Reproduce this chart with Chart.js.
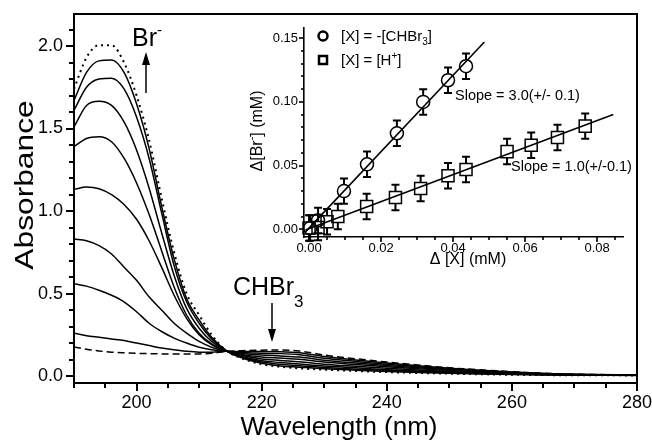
<!DOCTYPE html>
<html lang="en">
<head>
<meta charset="UTF-8">
<title>Absorbance spectra - Br- from CHBr3</title>
<script src="https://cdn.jsdelivr.net/npm/chart.js"></script>
<style>
    body { margin: 0; background: #fff; }
    #wrap { position: relative; width: 652px; height: 441px; }
    canvas { position: absolute; }
    #mainChart { left: 0; top: 0; }
    #insetChart { left: 250px; top: 18px; }
</style>
</head>
<body>
<div id="wrap">
    <canvas id="mainChart" width="652" height="441"></canvas>
    <canvas id="insetChart" width="385" height="255"></canvas>
</div>
<script>
// ---- main panel: spectra ----
const wavelengths = [190, 192, 194, 196, 198, 200, 202, 204, 206, 208, 210, 212, 214.5,
                     217, 220, 223, 226, 230, 235, 240, 245, 250, 255, 260, 265, 270, 280];

// dashed = CHBr3 before reaction, dotted = end of reaction
const specStart = [0.176, 0.162, 0.152, 0.145, 0.141, 0.138, 0.136, 0.134, 0.133, 0.133, 0.134, 0.138, 0.15,
                   0.154, 0.157, 0.158, 0.152, 0.127, 0.105, 0.085, 0.067, 0.050, 0.038, 0.027, 0.017, 0.011, 0.007];
const spec1 = [0.26, 0.245, 0.235, 0.225, 0.215, 0.20, 0.185, 0.17, 0.16, 0.15, 0.145, 0.145, 0.15,
               0.149, 0.149, 0.148, 0.142, 0.118, 0.098, 0.079, 0.062, 0.047, 0.035, 0.025, 0.016, 0.011, 0.007];
const spec2 = [0.56, 0.545, 0.52, 0.49, 0.45, 0.39, 0.32, 0.27, 0.23, 0.20, 0.175, 0.16, 0.15,
               0.143, 0.138, 0.136, 0.129, 0.108, 0.089, 0.072, 0.056, 0.042, 0.032, 0.023, 0.015, 0.010, 0.006];
const spec3 = [0.83, 0.82, 0.79, 0.74, 0.66, 0.58, 0.48, 0.40, 0.32, 0.26, 0.21, 0.175, 0.15,
               0.137, 0.127, 0.122, 0.115, 0.096, 0.079, 0.064, 0.050, 0.038, 0.029, 0.020, 0.013, 0.009, 0.006];
const spec4 = [1.13, 1.145, 1.135, 1.10, 1.04, 0.95, 0.82, 0.66, 0.49, 0.35, 0.25, 0.19, 0.15,
               0.130, 0.116, 0.109, 0.102, 0.085, 0.070, 0.056, 0.044, 0.033, 0.025, 0.018, 0.012, 0.008, 0.006];
const spec5 = [1.39, 1.44, 1.45, 1.42, 1.32, 1.17, 0.98, 0.76, 0.54, 0.37, 0.26, 0.195, 0.15,
               0.124, 0.104, 0.095, 0.087, 0.072, 0.059, 0.047, 0.037, 0.028, 0.021, 0.015, 0.011, 0.008, 0.005];
const spec6 = [1.51, 1.64, 1.665, 1.64, 1.54, 1.37, 1.14, 0.87, 0.61, 0.41, 0.29, 0.21, 0.15,
               0.117, 0.093, 0.082, 0.073, 0.061, 0.050, 0.039, 0.031, 0.024, 0.018, 0.013, 0.009, 0.007, 0.005];
const spec7 = [1.61, 1.75, 1.80, 1.805, 1.74, 1.57, 1.32, 0.99, 0.67, 0.45, 0.32, 0.225, 0.15,
               0.112, 0.085, 0.071, 0.063, 0.052, 0.042, 0.033, 0.026, 0.020, 0.015, 0.011, 0.008, 0.006, 0.005];
const spec8 = [1.67, 1.84, 1.91, 1.915, 1.84, 1.65, 1.38, 1.03, 0.71, 0.47, 0.34, 0.235, 0.15,
               0.108, 0.078, 0.061, 0.054, 0.045, 0.036, 0.028, 0.022, 0.017, 0.013, 0.010, 0.007, 0.006, 0.004];
const specEnd = [1.74, 1.93, 2.005, 2.005, 1.90, 1.70, 1.43, 1.08, 0.75, 0.50, 0.37, 0.25, 0.15,
                 0.105, 0.072, 0.056, 0.047, 0.039, 0.031, 0.024, 0.019, 0.015, 0.011, 0.008, 0.006, 0.005, 0.004];

// ---- inset: delta[Br-] vs delta[X] ----
const chbr3X = [0.0003, 0.0025, 0.0097, 0.0161, 0.0244, 0.0317, 0.0386, 0.0436];
const chbr3Y = [0.001, 0.007, 0.030, 0.051, 0.0754, 0.100, 0.117, 0.128];
const chbr3Err = [0.01, 0.01, 0.01, 0.01, 0.01, 0.01, 0.01, 0.01];
const hX = [0.0, 0.0025, 0.005, 0.008, 0.016, 0.024, 0.031, 0.0386, 0.0436, 0.055, 0.0617, 0.069, 0.0767];
const hY = [0.001, 0.0015, 0.006, 0.010, 0.018, 0.025, 0.032, 0.042, 0.047, 0.061, 0.066, 0.072, 0.081];
const hErr = [0.01, 0.01, 0.01, 0.01, 0.01, 0.01, 0.01, 0.01, 0.01, 0.01, 0.01, 0.01, 0.01];
const fitChbr3X = [-0.001, 0.0487];
const fitChbr3Y = [-0.002, 0.147];
const fitHX = [-0.001, 0.0845];
const fitHY = [-0.0006, 0.0901];

const FONT = '"Liberation Sans", Arial, Helvetica, sans-serif';
Chart.defaults.font.family = FONT;
Chart.defaults.color = '#000';

function toPoints(xs, ys) {
    return xs.map((x, i) => ({ x: x, y: ys[i] }));
}

function isMultiple(v, step) {
    return Math.abs(v / step - Math.round(v / step)) < 1e-6;
}

// outward tick marks as small filled bars, placed with the scale
function tickBars(chart, id, step, majorStep, majorLen, minorLen, w) {
    const scale = chart.scales[id];
    const ctx = chart.ctx;
    const a = chart.chartArea;
    const first = Math.ceil(scale.min / step - 1e-6);
    const last = Math.floor(scale.max / step + 1e-6);
    for (let k = first; k <= last; k++) {
        const v = k * step;
        const len = isMultiple(v, majorStep) ? majorLen : minorLen;
        const p = Math.round(scale.getPixelForValue(v));
        if (id === 'x') {
            ctx.fillRect(p - w / 2, a.bottom, w, len);
        } else {
            ctx.fillRect(a.left - len, p - w / 2, len, w);
        }
    }
}

// text with sub/superscripts: parts = [text, size, dy]
function textWidth(ctx, parts) {
    let w = 0;
    parts.forEach(([t, size]) => { ctx.font = size + 'px ' + FONT; w += ctx.measureText(t).width; });
    return w;
}
function richText(ctx, parts, x, y) {
    parts.forEach(([t, size, dy]) => {
        ctx.font = size + 'px ' + FONT;
        ctx.fillText(t, x, y + dy);
        x += ctx.measureText(t).width;
    });
}

function arrow(ctx, x, yFrom, yTo) {
    const dir = yTo > yFrom ? 1 : -1;
    ctx.beginPath();
    ctx.moveTo(x, yFrom);
    ctx.lineTo(x, yTo - dir * 10);
    ctx.stroke();
    ctx.beginPath();
    ctx.moveTo(x, yTo);
    ctx.lineTo(x - 4, yTo - dir * 13);
    ctx.lineTo(x + 4, yTo - dir * 13);
    ctx.closePath();
    ctx.fill();
}

const noGrid = { display: false, drawTicks: false };

const mainDecor = {
    id: 'mainDecor',
    afterDraw(chart) {
        const ctx = chart.ctx, a = chart.chartArea;
        ctx.save();
        ctx.setLineDash([]);
        ctx.strokeStyle = '#000';
        ctx.fillStyle = '#000';
        ctx.lineWidth = 2;
        ctx.strokeRect(a.left, a.top, a.right - a.left, a.bottom - a.top);
        tickBars(chart, 'x', 5, 20, 8, 5, 2);
        tickBars(chart, 'y', 0.1, 0.5, 8, 5, 2);
        ctx.lineWidth = 1.5;

        ctx.textBaseline = 'alphabetic';
        ctx.textAlign = 'center';
        ctx.font = '26px ' + FONT;
        ctx.fillText('Wavelength (nm)', 339, 435);
        ctx.save();
        ctx.translate(33, 185);
        ctx.rotate(-Math.PI / 2);
        ctx.scale(1.22, 1);
        ctx.fillText('Absorbance', 0, 0);
        ctx.restore();

        ctx.textAlign = 'left';
        richText(ctx, [['Br', 25, 0], ['-', 15, -11]], 132, 46);
        arrow(ctx, 146, 93, 52);
        richText(ctx, [['CHBr', 25, 0], ['3', 17, 12]], 233, 295);
        arrow(ctx, 272, 303, 342);
        ctx.restore();
    }
};

const mainSeries = [
    { data: specStart, dash: [7, 4], width: 1.5 },
    { data: spec1, dash: [], width: 1.5 },
    { data: spec2, dash: [], width: 1.5 },
    { data: spec3, dash: [], width: 1.5 },
    { data: spec4, dash: [], width: 1.5 },
    { data: spec5, dash: [], width: 1.5 },
    { data: spec6, dash: [], width: 1.5 },
    { data: spec7, dash: [], width: 1.5 },
    { data: spec8, dash: [], width: 1.5 },
    { data: specEnd, dash: [2, 4], width: 2 }
];

new Chart(document.getElementById('mainChart'), {
    type: 'line',
    data: {
        datasets: mainSeries.map(s => ({
            data: toPoints(wavelengths, s.data),
            borderColor: '#000',
            borderWidth: s.width,
            borderDash: s.dash,
            pointRadius: 0,
            fill: false,
            cubicInterpolationMode: 'monotone'
        }))
    },
    options: {
        responsive: false,
        animation: false,
        events: [],
        layout: { padding: { top: 14, right: 15, left: 0, bottom: 0 } },
        plugins: { legend: { display: false }, tooltip: { enabled: false } },
        scales: {
            x: {
                type: 'linear', min: 190, max: 280,
                afterFit: s => { s.height = 58; s.paddingLeft = 0; s.paddingRight = 0; },
                grid: noGrid,
                border: { display: false },
                ticks: {
                    stepSize: 5, includeBounds: false, autoSkip: false, maxRotation: 0, minRotation: 0,
                    padding: 9, font: { size: 18 }, color: '#000',
                    callback: v => isMultiple(v, 20) ? String(Math.round(v)) : ''
                }
            },
            y: {
                type: 'linear', min: -0.042, max: 2.194,
                afterFit: s => { s.width = 74; s.paddingTop = 0; s.paddingBottom = 0; },
                grid: noGrid,
                border: { display: false },
                ticks: {
                    stepSize: 0.1, includeBounds: false, autoSkip: false,
                    padding: 11, font: { size: 18 }, color: '#000',
                    callback: v => isMultiple(v, 0.5) ? v.toFixed(1) : ''
                }
            }
        }
    },
    plugins: [mainDecor]
});

const insetDecor = {
    id: 'insetDecor',
    beforeDatasetsDraw(chart) {
        const ctx = chart.ctx, xs = chart.scales.x, ys = chart.scales.y;
        ctx.save();
        ctx.strokeStyle = '#000';
        ctx.lineWidth = 2;
        chart.data.datasets.forEach(ds => {
            if (!ds.errors) return;
            const r = ds.barGap;
            ds.data.forEach((p, i) => {
                const px = xs.getPixelForValue(p.x);
                const py = ys.getPixelForValue(p.y);
                const top = ys.getPixelForValue(p.y + ds.errors[i]);
                const bot = ys.getPixelForValue(p.y - ds.errors[i]);
                ctx.beginPath();
                ctx.moveTo(px, top); ctx.lineTo(px, py - r);
                ctx.moveTo(px, py + r); ctx.lineTo(px, bot);
                ctx.moveTo(px - 4, top); ctx.lineTo(px + 4, top);
                ctx.moveTo(px - 4, bot); ctx.lineTo(px + 4, bot);
                ctx.stroke();
            });
        });
        ctx.restore();
    },
    afterDraw(chart) {
        const ctx = chart.ctx;
        ctx.save();
        ctx.setLineDash([]);
        ctx.strokeStyle = '#000';
        ctx.fillStyle = '#000';
        tickBars(chart, 'x', 0.005, 0.02, 5, 3, 1.6);
        tickBars(chart, 'y', 0.01, 0.05, 5, 3, 1.6);

        // legend
        ctx.lineWidth = 2.5;
        ctx.beginPath();
        ctx.arc(73, 18, 4.5, 0, Math.PI * 2);
        ctx.stroke();
        ctx.strokeRect(69, 38, 8, 8);
        ctx.textAlign = 'left';
        ctx.textBaseline = 'alphabetic';
        richText(ctx, [['[X] = -[CHBr', 15, 0], ['3', 10, 4], [']', 15, 0]], 91, 23);
        richText(ctx, [['[X] = [H', 15, 0], ['+', 10, -6], [']', 15, 0]], 91, 47);

        // slopes
        richText(ctx, [['Slope = 3.0(+/- 0.1)', 14.5, 0]], 205, 82);
        richText(ctx, [['Slope = 1.0(+/-0.1)', 14.5, 0]], 261, 153);

        // axis titles
        ctx.textAlign = 'center';
        ctx.font = '16px ' + FONT;
        ctx.fillText('\u0394 [X] (mM)', 218, 246);
        const yTitle = [['\u0394[Br', 16, 0], ['-', 11, -7], ['] (mM)', 16, 0]];
        ctx.textAlign = 'left';
        const w = textWidth(ctx, yTitle);
        ctx.translate(12, 113);
        ctx.rotate(-Math.PI / 2);
        richText(ctx, yTitle, -w / 2, 0);
        ctx.restore();
    }
};

new Chart(document.getElementById('insetChart'), {
    type: 'scatter',
    data: {
        datasets: [
            {
                type: 'line', data: toPoints(fitChbr3X, fitChbr3Y),
                borderColor: '#000', borderWidth: 1.6, pointRadius: 0, fill: false
            },
            {
                type: 'line', data: toPoints(fitHX, fitHY),
                borderColor: '#000', borderWidth: 1.6, pointRadius: 0, fill: false
            },
            {
                label: '[X] = -[CHBr3]', data: toPoints(chbr3X, chbr3Y), errors: chbr3Err, barGap: 6.5,
                pointStyle: 'circle', pointRadius: 6.5, pointBorderWidth: 1.5,
                pointBorderColor: '#000', pointBackgroundColor: 'rgba(0,0,0,0)', clip: false
            },
            {
                label: '[X] = [H+]', data: toPoints(hX, hY), errors: hErr, barGap: 6,
                pointStyle: 'rect', pointRadius: 8.5, pointBorderWidth: 1.5,
                pointBorderColor: '#000', pointBackgroundColor: 'rgba(0,0,0,0)', clip: false
            }
        ]
    },
    options: {
        responsive: false,
        animation: false,
        events: [],
        layout: { padding: { top: 6, right: 12, left: 0, bottom: 0 } },
        plugins: { legend: { display: false }, tooltip: { enabled: false } },
        scales: {
            x: {
                type: 'linear', min: -0.0014, max: 0.0872,
                afterFit: s => { s.height = 36; s.paddingLeft = 0; s.paddingRight = 0; },
                grid: noGrid,
                border: { display: true, color: '#000', width: 1.6 },
                ticks: {
                    stepSize: 0.005, includeBounds: false, autoSkip: false, maxRotation: 0, minRotation: 0,
                    padding: 4, font: { size: 13 }, color: '#000',
                    callback: v => isMultiple(v, 0.02) ? v.toFixed(2) : ''
                }
            },
            y: {
                type: 'linear', min: -0.006, max: 0.158,
                afterFit: s => { s.width = 54; s.paddingTop = 0; s.paddingBottom = 0; },
                grid: noGrid,
                border: { display: true, color: '#000', width: 1.6 },
                ticks: {
                    stepSize: 0.01, includeBounds: false, autoSkip: false,
                    padding: 6, font: { size: 13 }, color: '#000',
                    callback: v => isMultiple(v, 0.05) ? v.toFixed(2) : ''
                }
            }
        }
    },
    plugins: [insetDecor]
});
</script>
</body>
</html>
